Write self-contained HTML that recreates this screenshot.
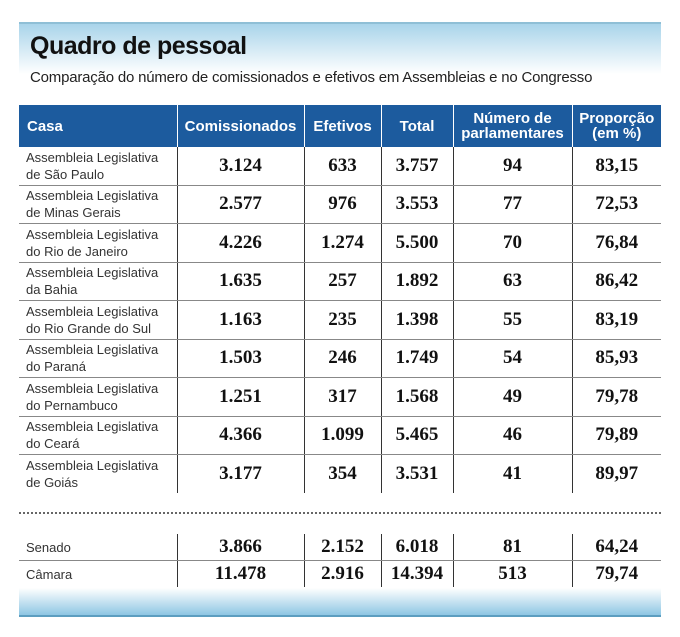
<!DOCTYPE html>
<html><head><meta charset="utf-8"><style>
body{margin:0;width:680px;height:637px;background:#fff;position:relative;overflow:hidden;font-family:"Liberation Sans",sans-serif}
.abs{position:absolute}
#topband{left:19px;top:22px;width:642px;height:50px;border-top:2px solid #8fbfd6;background:linear-gradient(#a9d4ea,#fff)}
#title{left:30px;top:32px;font-size:25px;font-weight:bold;color:#111;letter-spacing:-0.5px}
#sub{left:30px;top:69px;font-size:15px;color:#222;letter-spacing:-0.2px}
table{position:absolute;left:19px;top:105px;border-collapse:collapse;width:642px}
th{background:#1c5b9e;color:#fff;font-size:15px;font-weight:bold;height:42px;padding:0;border-left:1px solid #fff;line-height:15px}
th:first-child{border-left:none;text-align:left;padding-left:8px}
td{height:37.5px;padding:0;border-left:1px solid #333;border-bottom:1px solid #888;text-align:center;font-family:"Liberation Serif",serif;font-weight:bold;font-size:19px;color:#111}
td:first-child{border-left:none;text-align:left;padding-left:7px;font-family:"Liberation Sans",sans-serif;font-weight:normal;font-size:13px;color:#333;line-height:17px}
tr.last td{border-bottom:none}
#t2{top:534px}
#t2 td{height:26px}
#dots{left:19px;top:512px;width:642px;border-top:2px dotted #666}
#botband{left:19px;top:588px;width:642px;height:27px;border-bottom:2px solid #5c9ec0;background:linear-gradient(#fff,#8ec6e4)}
</style></head><body>
<div class="abs" id="topband"></div>
<div class="abs" id="title">Quadro de pessoal</div>
<div class="abs" id="sub">Comparação do número de comissionados e efetivos em Assembleias e no Congresso</div>
<table>
<colgroup><col style="width:158px"><col style="width:127px"><col style="width:77px"><col style="width:72px"><col style="width:119px"><col style="width:89px"></colgroup>
<tr><th>Casa</th><th>Comissionados</th><th>Efetivos</th><th>Total</th><th>Número de<br>parlamentares</th><th>Proporção<br>(em %)</th></tr>
<tr><td>Assembleia Legislativa<br>de São Paulo</td><td>3.124</td><td>633</td><td>3.757</td><td>94</td><td>83,15</td></tr>
<tr><td>Assembleia Legislativa<br>de Minas Gerais</td><td>2.577</td><td>976</td><td>3.553</td><td>77</td><td>72,53</td></tr>
<tr><td>Assembleia Legislativa<br>do Rio de Janeiro</td><td>4.226</td><td>1.274</td><td>5.500</td><td>70</td><td>76,84</td></tr>
<tr><td>Assembleia Legislativa<br>da Bahia</td><td>1.635</td><td>257</td><td>1.892</td><td>63</td><td>86,42</td></tr>
<tr><td>Assembleia Legislativa<br>do Rio Grande do Sul</td><td>1.163</td><td>235</td><td>1.398</td><td>55</td><td>83,19</td></tr>
<tr><td>Assembleia Legislativa<br>do Paraná</td><td>1.503</td><td>246</td><td>1.749</td><td>54</td><td>85,93</td></tr>
<tr><td>Assembleia Legislativa<br>do Pernambuco</td><td>1.251</td><td>317</td><td>1.568</td><td>49</td><td>79,78</td></tr>
<tr><td>Assembleia Legislativa<br>do Ceará</td><td>4.366</td><td>1.099</td><td>5.465</td><td>46</td><td>79,89</td></tr>
<tr class="last"><td>Assembleia Legislativa<br>de Goiás</td><td>3.177</td><td>354</td><td>3.531</td><td>41</td><td>89,97</td></tr>
</table>
<div class="abs" id="dots"></div>
<table id="t2">
<colgroup><col style="width:158px"><col style="width:127px"><col style="width:77px"><col style="width:72px"><col style="width:119px"><col style="width:89px"></colgroup>
<tr><td>Senado</td><td>3.866</td><td>2.152</td><td>6.018</td><td>81</td><td>64,24</td></tr>
<tr class="last"><td>Câmara</td><td>11.478</td><td>2.916</td><td>14.394</td><td>513</td><td>79,74</td></tr>
</table>
<div class="abs" id="botband"></div>
</body></html>
